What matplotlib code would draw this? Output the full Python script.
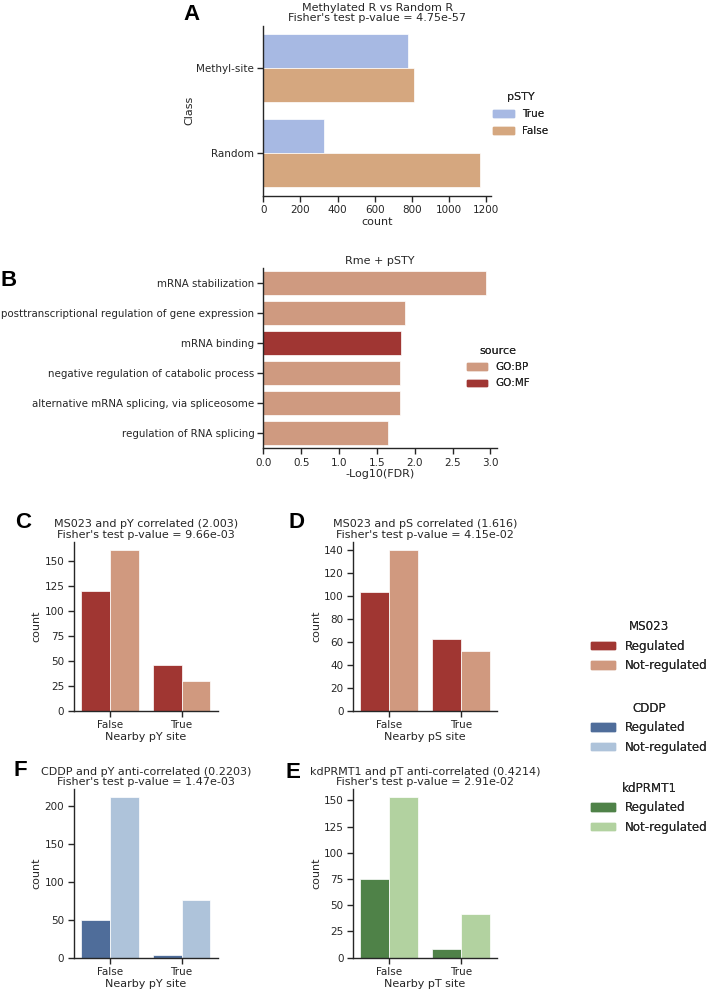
import matplotlib
matplotlib.use("Agg")
import matplotlib.pyplot as plt
from matplotlib.patches import Patch

# ---- data ----
# A: Methylated R vs Random R
a_classes = ["Methyl-site", "Random"]
a_true = [780, 325]
a_false = [810, 1168]

# B: Rme + pSTY enrichment
b_terms = ["mRNA stabilization",
           "posttranscriptional regulation of gene expression",
           "mRNA binding",
           "negative regulation of catabolic process",
           "alternative mRNA splicing, via spliceosome",
           "regulation of RNA splicing"]
b_fdr = [2.94, 1.87, 1.82, 1.81, 1.81, 1.65]
b_source = ["GO:BP", "GO:BP", "GO:MF", "GO:BP", "GO:BP", "GO:BP"]

# C-F: counts by nearby site (False, True)
site_levels = ["False", "True"]
c_reg = [120, 46]
c_notreg = [161, 30]
d_reg = [103, 62]
d_notreg = [140, 52]
f_reg = [49, 3]
f_notreg = [211, 76]
e_reg = [75, 8]
e_notreg = [153, 42]

# ---- style ----
W, H = 711, 990
DARK = "#262626"
plt.rcParams.update({
    "font.family": ["DejaVu Sans"],
    "axes.edgecolor": DARK,
    "axes.linewidth": 1.0,
    "xtick.color": DARK, "ytick.color": DARK,
    "xtick.labelcolor": DARK, "ytick.labelcolor": DARK,
    "xtick.major.size": 4.2, "ytick.major.size": 4.2,
    "xtick.major.pad": 2.8, "ytick.major.pad": 2.8,
    "xtick.major.width": 1.0, "ytick.major.width": 1.0,
    "xtick.labelsize": 7.5, "ytick.labelsize": 7.5,
    "axes.labelsize": 8, "axes.titlesize": 8,
    "axes.labelcolor": DARK, "text.color": DARK,
})

col_true, col_false = "#a7b9e3", "#d5a77f"
col_bp, col_mf = "#cf9a80", "#a03633"
ms_cols = ("#a03632", "#d0997f")
cd_cols = ("#4f6d9a", "#aec3da")
kd_cols = ("#4f8248", "#b2d2a0")

fig = plt.figure(figsize=(W / 100, H / 100), dpi=100)


def px_axes(x0, y0, x1, y1):
    return fig.add_axes([x0 / W, 1 - y1 / H, (x1 - x0) / W, (y1 - y0) / H])


def despine(ax):
    ax.spines["top"].set_visible(False)
    ax.spines["right"].set_visible(False)


def letter(x, y, s):
    fig.text(x / W, 1 - y / H, s, fontsize=16, fontweight="bold",
             family=["Liberation Sans", "DejaVu Sans"], color="black",
             ha="center", va="center")


def px_legend(handles, title, x, ytop, size, tsize, spacing, hl=2.0):
    leg = fig.legend(handles=handles, title=title, frameon=False,
                     fontsize=size, title_fontsize=tsize,
                     loc="upper left", bbox_to_anchor=(x / W, 1 - ytop / H),
                     borderaxespad=0, borderpad=0, handlelength=hl,
                     handleheight=0.6, labelspacing=spacing, handletextpad=0.8)
    fig.add_artist(leg)
    return leg


# ---- A ----
axA = px_axes(263.3, 25.5, 491, 195.5)
ya = list(range(len(a_classes)))
axA.barh([y - 0.2 for y in ya], a_true, height=0.4, color=col_true,
         edgecolor="white", linewidth=0.5)
axA.barh([y + 0.2 for y in ya], a_false, height=0.4, color=col_false,
         edgecolor="white", linewidth=0.5)
axA.set_yticks(ya)
axA.set_yticklabels(a_classes)
axA.set_ylim(len(a_classes) - 0.5, -0.5)
axA.set_xlim(0, max(a_true + a_false) * 1.05)
axA.set_xticks(range(0, 1201, 200))
axA.set_xlabel("count", labelpad=1)
axA.set_ylabel("Class", labelpad=1)
axA.set_title("Methylated R vs Random R\nFisher's test p-value = 4.75e-57",
              pad=3, linespacing=1.05)
despine(axA)
px_legend([Patch(color=col_true, label="True"),
           Patch(color=col_false, label="False")],
          "pSTY", 493, 92.5, 7.5, 8, 0.65)

# ---- B ----
axB = px_axes(263.3, 268, 497, 448)
yb = list(range(len(b_terms)))
axB.barh(yb, b_fdr, height=0.8,
         color=[col_bp if s == "GO:BP" else col_mf for s in b_source],
         edgecolor="white", linewidth=0.5)
axB.set_yticks(yb)
axB.set_yticklabels(b_terms, fontsize=7.4)
axB.tick_params(axis="y", pad=2.3)
axB.set_ylim(len(b_terms) - 0.5, -0.5)
axB.set_xlim(0, max(b_fdr) * 1.05)
axB.set_xticks([0, 0.5, 1.0, 1.5, 2.0, 2.5, 3.0])
axB.set_xlabel("-Log10(FDR)", labelpad=1)
axB.set_title("Rme + pSTY", pad=3)
despine(axB)
px_legend([Patch(color=col_bp, label="GO:BP"),
           Patch(color=col_mf, label="GO:MF")],
          "source", 466.5, 346, 7.5, 8, 0.6)


# ---- C, D, F, E ----
def count_panel(rect, reg, notreg, cols, title, xlabel, yticks):
    ax = px_axes(*rect)
    xs = list(range(len(site_levels)))
    ax.bar([x - 0.2 for x in xs], reg, width=0.4, color=cols[0],
           edgecolor="white", linewidth=0.5)
    ax.bar([x + 0.2 for x in xs], notreg, width=0.4, color=cols[1],
           edgecolor="white", linewidth=0.5)
    ax.set_xticks(xs)
    ax.set_xticklabels(site_levels)
    ax.set_xlim(-0.5, len(site_levels) - 0.5)
    ax.set_ylim(0, max(reg + notreg) * 1.05)
    ax.set_yticks(yticks)
    ax.set_xlabel(xlabel, labelpad=1)
    ax.set_ylabel("count", labelpad=2)
    ax.set_title(title, pad=3, linespacing=1.05)
    despine(ax)
    return ax


count_panel((74, 541.7, 217.5, 710.7), c_reg, c_notreg, ms_cols,
            "MS023 and pY correlated (2.003)\nFisher's test p-value = 9.66e-03",
            "Nearby pY site", range(0, 151, 25))
count_panel((353.3, 541.7, 496.8, 710.7), d_reg, d_notreg, ms_cols,
            "MS023 and pS correlated (1.616)\nFisher's test p-value = 4.15e-02",
            "Nearby pS site", range(0, 141, 20))
count_panel((74, 789.3, 217.5, 957.7), f_reg, f_notreg, cd_cols,
            "CDDP and pY anti-correlated (0.2203)\nFisher's test p-value = 1.47e-03",
            "Nearby pY site", range(0, 201, 50))
count_panel((353.3, 789.3, 496.8, 957.7), e_reg, e_notreg, kd_cols,
            "kdPRMT1 and pT anti-correlated (0.4214)\nFisher's test p-value = 2.91e-02",
            "Nearby pT site", range(0, 151, 25))

# ---- shared right legends ----
for name, cols, ytop in [("MS023", ms_cols, 620),
                         ("CDDP", cd_cols, 701.5),
                         ("kdPRMT1", kd_cols, 781.5)]:
    px_legend([Patch(color=cols[0], label="Regulated"),
               Patch(color=cols[1], label="Not-regulated")],
              name, 591, ytop, 8.6, 8.6, 0.55)

letter(191.7, 14, "A")
letter(9, 280, "B")
letter(23, 523, "C")
letter(297, 523, "D")
letter(20, 770, "F")
letter(293, 772, "E")

fig.savefig("out.png", dpi=100)
